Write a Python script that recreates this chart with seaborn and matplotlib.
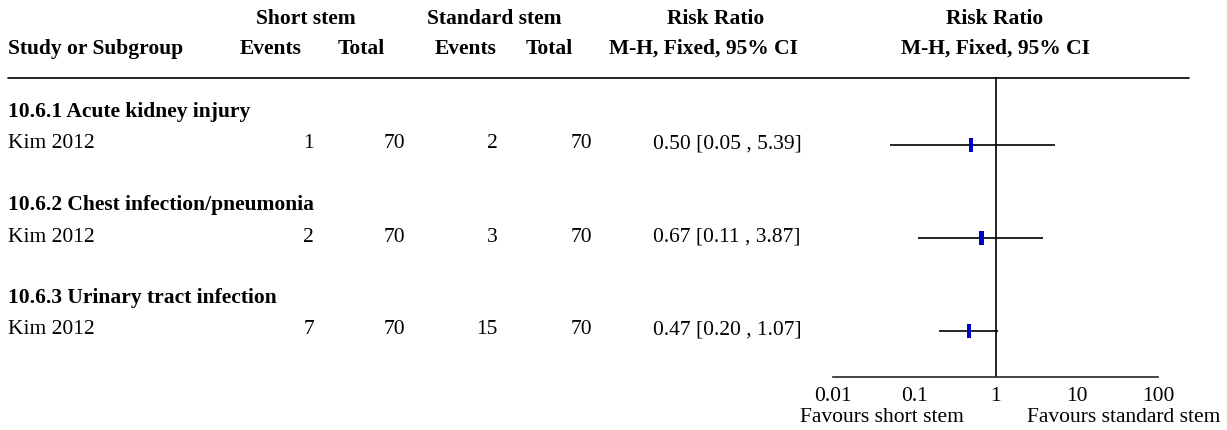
import numpy as np
import pandas as pd
import matplotlib
matplotlib.use("Agg")
import matplotlib.pyplot as plt
import seaborn as sns

# data
groups = ["10.6.1 Acute kidney injury", "10.6.2 Chest infection/pneumonia", "10.6.3 Urinary tract infection"]
studies = ["Kim 2012", "Kim 2012", "Kim 2012"]
short_events = [1, 2, 7]
short_total = [70, 70, 70]
std_events = [2, 3, 15]
std_total = [70, 70, 70]
rr = [0.50, 0.67, 0.47]
ci_low = [0.05, 0.11, 0.20]
ci_high = [5.39, 3.87, 1.07]
ticks = [0.01, 0.1, 1, 10, 100]
tick_labels = ["0.01", "0.1", "1", "10", "100"]

df = pd.DataFrame({
    "group": groups, "study": studies,
    "e1": short_events, "n1": short_total, "e2": std_events, "n2": std_total,
    "rr": rr, "lo": ci_low, "hi": ci_high,
})

sns.set_theme(style="white")
plt.rcParams["font.family"] = ["Liberation Serif", "DejaVu Serif"]
plt.rcParams["text.color"] = "black"
FS = 15.5

W, H = 1227, 430
fig = plt.figure(figsize=(W / 100, H / 100), dpi=100)

# full-figure axes in pixel coordinates for the table part
tab = fig.add_axes([0, 0, 1, 1])
tab.set_xlim(0, W)
tab.set_ylim(H, 0)
tab.axis("off")

bold = dict(fontsize=FS, fontweight="bold", va="center", color="black")
norm = dict(fontsize=FS, va="center", color="black")
tab.text(306, 19, "Short stem", ha="center", **bold)
tab.text(494, 19, "Standard stem", ha="center", **bold)
tab.text(716, 19, "Risk Ratio", ha="center", **bold)
tab.text(995, 19, "Risk Ratio", ha="center", **bold)
tab.text(8, 49, "Study or Subgroup", ha="left", **bold)
tab.text(271, 49, "Events", ha="center", **bold)
tab.text(361, 49, "Total", ha="center", **bold)
tab.text(466, 49, "Events", ha="center", **bold)
tab.text(549, 49, "Total", ha="center", **bold)
tab.text(703, 49, "M-H, Fixed, 95% CI", ha="center", **bold)
tab.text(995, 49, "M-H, Fixed, 95% CI", ha="center", **bold)
tab.plot([8, 1189], [77.5, 77.5], color="black", lw=1.2)

row_y = [145, 238, 331]
head_y = [y - 33 for y in row_y]
for i, r in df.iterrows():
    y = row_y[i] - 1
    tab.text(8, head_y[i], r["group"], ha="left", **bold)
    tab.text(8, y, r["study"], ha="left", **norm)
    tab.text(314, y, str(r["e1"]), ha="right", **norm)
    tab.text(405, y, str(r["n1"]), ha="right", **norm)
    tab.text(498, y, str(r["e2"]), ha="right", **norm)
    tab.text(592, y, str(r["n2"]), ha="right", **norm)
    tab.text(727, y, f"{r['rr']:.2f} [{r['lo']:.2f} , {r['hi']:.2f}]",
             ha="center", **norm)

# forest axes: 0.01..100 on a log scale
x0, x1, ytop, ybot = 833, 1158, 77, 377
fa = fig.add_axes([x0 / W, 1 - ybot / H, (x1 - x0) / W, (ybot - ytop) / H])
fa.patch.set_alpha(0)
fa.set_xscale("log")
fa.set_xlim(0.01, 100)
fa.set_ylim(ybot, ytop)
for s in ["top", "left", "right"]:
    fa.spines[s].set_visible(False)
fa.spines["bottom"].set_linewidth(1.2)
fa.set_xticks(ticks)
fa.set_xticklabels(tick_labels)
fa.minorticks_off()
fa.tick_params(axis="x", direction="inout", length=9, width=1.2, labelsize=FS,
               pad=3, colors="black")
fa.set_yticks([])
fa.axvline(1, color="black", lw=1.2, zorder=1)

df["y"] = row_y
fa.hlines(df["y"], df["lo"], df["hi"], color="black", lw=1.2, zorder=2)
rect = [(-0.35, -1), (0.35, -1), (0.35, 1), (-0.35, 1)]
sns.scatterplot(data=df, x="rr", y="y", marker=rect, s=90, color="#0000cc",
                edgecolor="none", ax=fa, zorder=3, legend=False)
fa.set_xlabel("")
fa.set_ylabel("")

tab.text(964, 418, "Favours short stem", ha="right", **norm)
tab.text(1027, 418, "Favours standard stem", ha="left", **norm)

fig.savefig("out.png", dpi=100)
